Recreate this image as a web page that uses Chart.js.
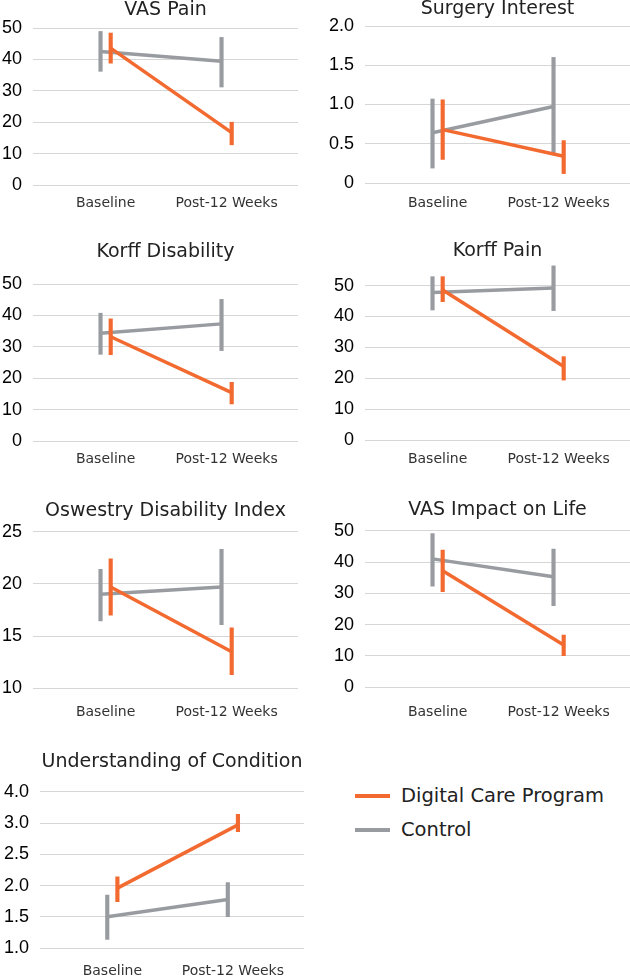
<!DOCTYPE html>
<html><head><meta charset="utf-8">
<script src="https://cdn.jsdelivr.net/npm/chart.js@4.4.1/dist/chart.umd.min.js"></script>
<style>
html,body{margin:0;padding:0;background:#fff;width:630px;height:976px;overflow:hidden;position:relative}
canvas{position:absolute}
.leg{position:absolute;font-family:"DejaVu Sans";font-size:19.5px;line-height:24px;color:#222;white-space:nowrap}
.sw{position:absolute;height:4px}
</style></head><body>
<script>
const categories = ["Baseline", "Post-12 Weeks"];
const seriesNames = ["Digital Care Program", "Control"];
const seriesColors = ["#F26A30", "#989CA0"];

// VAS Pain
const vasPainDcpMean = [43.6, 16.7];
const vasPainDcpLow = [38.8, 12.8];
const vasPainDcpHigh = [48.4, 20.0];
const vasPainCtrlMean = [42.5, 39.4];
const vasPainCtrlLow = [36.2, 31.2];
const vasPainCtrlHigh = [48.9, 47.0];
const vasPainTicks = [0, 10, 20, 30, 40, 50];
const vasPainTickLabels = ["0", "10", "20", "30", "40", "50"];

// Surgery Interest
const surgeryDcpMean = [0.68, 0.34];
const surgeryDcpLow = [0.30, 0.12];
const surgeryDcpHigh = [1.06, 0.54];
const surgeryCtrlMean = [0.64, 0.975];
const surgeryCtrlLow = [0.19, 0.36];
const surgeryCtrlHigh = [1.07, 1.60];
const surgeryTicks = [0, 0.5, 1.0, 1.5, 2.0];
const surgeryTickLabels = ["0", "0.5", "1.0", "1.5", "2.0"];

// Korff Disability
const korffDisDcpMean = [33.2, 15.4];
const korffDisDcpLow = [27.5, 11.8];
const korffDisDcpHigh = [38.9, 18.7];
const korffDisCtrlMean = [34.3, 37.3];
const korffDisCtrlLow = [27.6, 28.8];
const korffDisCtrlHigh = [40.7, 45.1];
const korffDisTicks = [0, 10, 20, 30, 40, 50];
const korffDisTickLabels = ["0", "10", "20", "30", "40", "50"];

// Korff Pain
const korffPainDcpMean = [48.6, 23.8];
const korffPainDcpLow = [44.8, 19.4];
const korffPainDcpHigh = [52.9, 27.0];
const korffPainCtrlMean = [47.8, 49.2];
const korffPainCtrlLow = [42.1, 41.9];
const korffPainCtrlHigh = [52.9, 56.4];
const korffPainTicks = [0, 10, 20, 30, 40, 50];
const korffPainTickLabels = ["0", "10", "20", "30", "40", "50"];

// Oswestry Disability Index
const odiDcpMean = [19.7, 13.5];
const odiDcpLow = [17.0, 11.3];
const odiDcpHigh = [22.4, 15.8];
const odiCtrlMean = [19.0, 19.7];
const odiCtrlLow = [16.45, 16.1];
const odiCtrlHigh = [21.4, 23.3];
const odiTicks = [10, 15, 20, 25];
const odiTickLabels = ["10", "15", "20", "25"];

// VAS Impact on Life
const vasImpactDcpMean = [37.2, 13.5];
const vasImpactDcpLow = [30.5, 10.1];
const vasImpactDcpHigh = [43.8, 16.7];
const vasImpactCtrlMean = [41.0, 35.3];
const vasImpactCtrlLow = [32.3, 26.1];
const vasImpactCtrlHigh = [49.1, 44.1];
const vasImpactTicks = [0, 10, 20, 30, 40, 50];
const vasImpactTickLabels = ["0", "10", "20", "30", "40", "50"];

// Understanding of Condition
const understandDcpMean = [1.96, 2.97];
const understandDcpLow = [1.745, 2.86];
const understandDcpHigh = [2.14, 3.14];
const understandCtrlMean = [1.505, 1.78];
const understandCtrlLow = [1.14, 1.505];
const understandCtrlHigh = [1.85, 2.05];
const understandTicks = [1.0, 1.5, 2.0, 2.5, 3.0, 3.5];
const understandTickLabels = ["1.0", "1.5", "2.0", "2.5", "3.0", "4.0"];

const panels = [
  {title: "VAS Pain", dcp: [vasPainDcpMean, vasPainDcpLow, vasPainDcpHigh], ctrl: [vasPainCtrlMean, vasPainCtrlLow, vasPainCtrlHigh], ticks: vasPainTicks, labels: vasPainTickLabels, yMin: 0, yMax: 50},
  {title: "Surgery Interest", dcp: [surgeryDcpMean, surgeryDcpLow, surgeryDcpHigh], ctrl: [surgeryCtrlMean, surgeryCtrlLow, surgeryCtrlHigh], ticks: surgeryTicks, labels: surgeryTickLabels, yMin: 0, yMax: 2},
  {title: "Korff Disability", dcp: [korffDisDcpMean, korffDisDcpLow, korffDisDcpHigh], ctrl: [korffDisCtrlMean, korffDisCtrlLow, korffDisCtrlHigh], ticks: korffDisTicks, labels: korffDisTickLabels, yMin: 0, yMax: 50},
  {title: "Korff Pain", dcp: [korffPainDcpMean, korffPainDcpLow, korffPainDcpHigh], ctrl: [korffPainCtrlMean, korffPainCtrlLow, korffPainCtrlHigh], ticks: korffPainTicks, labels: korffPainTickLabels, yMin: 0, yMax: 57},
  {title: "Oswestry Disability Index", dcp: [odiDcpMean, odiDcpLow, odiDcpHigh], ctrl: [odiCtrlMean, odiCtrlLow, odiCtrlHigh], ticks: odiTicks, labels: odiTickLabels, yMin: 10, yMax: 25},
  {title: "VAS Impact on Life", dcp: [vasImpactDcpMean, vasImpactDcpLow, vasImpactDcpHigh], ctrl: [vasImpactCtrlMean, vasImpactCtrlLow, vasImpactCtrlHigh], ticks: vasImpactTicks, labels: vasImpactTickLabels, yMin: 0, yMax: 50},
  {title: "Understanding of Condition", dcp: [understandDcpMean, understandDcpLow, understandDcpHigh], ctrl: [understandCtrlMean, understandCtrlLow, understandCtrlHigh], ticks: understandTicks, labels: understandTickLabels, yMin: 1.0, yMax: 3.5}
];

// layout frames (page pixels): plot area, title centre, x-label centre
const frames = [
  {l: 33, r: 298, t: 28, b: 185, titleY: 10, xLabelY: 203},
  {l: 365, r: 630, t: 26, b: 183, titleY: 9.5, xLabelY: 203.5},
  {l: 33, r: 298, t: 284, b: 441, titleY: 252, xLabelY: 459},
  {l: 365, r: 630, t: 264, b: 440, titleY: 251, xLabelY: 459.7},
  {l: 33, r: 298, t: 531.7, b: 688.3, titleY: 511, xLabelY: 712.6},
  {l: 365, r: 630, t: 530.7, b: 687.3, titleY: 510.5, xLabelY: 712.6},
  {l: 40, r: 304, t: 791.7, b: 948.3, titleY: 762.5, xLabelY: 971}
];

const X_MIN = -0.6, X_MAX = 1.59, SHIFT = 0.042;
const LINE_W = 3.5;

function lineData(mean, off) { return mean.map((v, i) => ({x: i + off, y: v})); }
function barData(low, high, off) { return low.map((v, i) => ({x: i + off, y: [v, high[i]]})); }

function makePanel(p, f) {
  const cv = document.createElement('canvas');
  const cx = f.l - 45;
  const cy = Math.floor(f.t) - 50;
  const cw = f.r - cx + 2;
  const ch = Math.ceil(f.b - cy + 32);
  cv.width = cw; cv.height = ch;
  cv.style.left = cx + 'px'; cv.style.top = cy + 'px';
  cv.style.width = cw + 'px'; cv.style.height = ch + 'px';
  document.body.appendChild(cv);
  const titleLH = 19 * 1.2;
  const tTop = f.titleY - cy - titleLH / 2;
  const tBot = (f.t - cy) - tTop - titleLH;
  const yW = f.l - cx;
  const xH = ch - (f.b - cy);
  const xPad = f.xLabelY - f.b - 8.4;
  new Chart(cv, {
    type: 'line',
    data: {
      datasets: [
        {type: 'line', label: seriesNames[0], data: lineData(p.dcp[0], SHIFT), borderColor: seriesColors[0], borderWidth: LINE_W, pointRadius: 0, fill: false, tension: 0, clip: false, borderCapStyle: 'butt'},
        {type: 'bar', label: seriesNames[0] + ' range', data: barData(p.dcp[1], p.dcp[2], SHIFT), backgroundColor: seriesColors[0], barThickness: LINE_W, grouped: false, borderWidth: 0},
        {type: 'line', label: seriesNames[1], data: lineData(p.ctrl[0], -SHIFT), borderColor: seriesColors[1], borderWidth: LINE_W, pointRadius: 0, fill: false, tension: 0, clip: false, borderCapStyle: 'butt'},
        {type: 'bar', label: seriesNames[1] + ' range', data: barData(p.ctrl[1], p.ctrl[2], -SHIFT), backgroundColor: seriesColors[1], barThickness: LINE_W, grouped: false, borderWidth: 0}
      ]
    },
    options: {
      responsive: false,
      animation: false,
      events: [],
      layout: {padding: {left: 0, right: cx + cw - f.r, top: 0, bottom: 0}},
      plugins: {
        legend: {display: false},
        tooltip: {enabled: false},
        title: {display: true, text: p.title, fullSize: false, color: '#222',
          font: {family: 'DejaVu Sans', size: 19, weight: 'normal', lineHeight: 1.2},
          padding: {top: tTop, bottom: tBot}}
      },
      scales: {
        x: {
          type: 'linear', min: X_MIN, max: X_MAX, offset: false,
          grid: {display: false, drawTicks: false}, border: {display: false},
          afterBuildTicks: (s) => { s.ticks = categories.map((c, i) => ({value: i})); },
          afterFit: (s) => { s.height = xH; },
          ticks: {autoSkip: false, maxRotation: 0, padding: xPad, color: '#333',
            font: {family: 'DejaVu Sans', size: 14, lineHeight: 1.2},
            callback: (v) => categories[v]}
        },
        y: {
          type: 'linear', min: p.yMin, max: p.yMax,
          grid: {color: '#D6D6D6', lineWidth: 1, drawTicks: false}, border: {display: false},
          afterBuildTicks: (s) => { s.ticks = p.ticks.map(v => ({value: v})); },
          afterFit: (s) => { s.width = yW; },
          ticks: {autoSkip: false, padding: 11, color: '#000',
            font: {family: 'Liberation Sans', size: 18, lineHeight: 1.2},
            callback: (v, i) => p.labels[i]}
        }
      }
    }
  });
}

panels.forEach((p, i) => makePanel(p, frames[i]));

// legend
const legendRows = [{y: 795.8}, {y: 830}];
seriesNames.forEach((name, i) => {
  const sw = document.createElement('div');
  sw.className = 'sw';
  sw.style.left = '355px'; sw.style.width = '35px';
  sw.style.top = (legendRows[i].y - 2) + 'px';
  sw.style.background = seriesColors[i];
  document.body.appendChild(sw);
  const t = document.createElement('div');
  t.className = 'leg';
  t.style.left = '401px';
  t.style.top = (legendRows[i].y - 11.7) + 'px';
  t.textContent = name;
  document.body.appendChild(t);
});
</script>
</body></html>
